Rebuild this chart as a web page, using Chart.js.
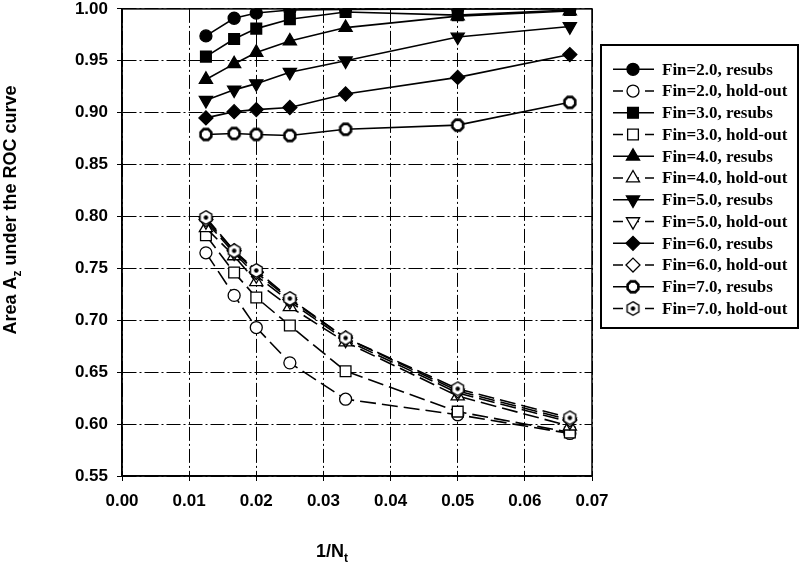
<!DOCTYPE html>
<html>
<head>
<meta charset="utf-8">
<script src="https://cdn.jsdelivr.net/npm/chart.js@4.4.1/dist/chart.umd.min.js"></script>
<style>
  html, body { margin: 0; padding: 0; background: #fff; }
  #wrap { width: 800px; height: 564px; position: relative; }
</style>
</head>
<body>
<div id="wrap"><canvas id="roc"></canvas></div>
<script>
// 1/Nt sample sizes (Nt = 80, 60, 50, 40, 30, 20, 15)
const invNt = [0.0125, 0.0167, 0.02, 0.025, 0.0333, 0.05, 0.0667];
const finValues = ['2.0', '3.0', '4.0', '5.0', '6.0', '7.0'];

// Az, resubstitution
const resubsFin2 = [0.974, 0.991, 0.996, 0.999, 0.9995, 1.0, 1.0];
const resubsFin3 = [0.954, 0.971, 0.981, 0.990, 0.997, 0.994, 0.999];
const resubsFin4 = [0.932, 0.947, 0.958, 0.969, 0.982, 0.993, 0.998];
const resubsFin5 = [0.912, 0.922, 0.928, 0.939, 0.950, 0.973, 0.983];
const resubsFin6 = [0.895, 0.901, 0.903, 0.905, 0.918, 0.934, 0.956];
const resubsFin7 = [0.879, 0.880, 0.879, 0.878, 0.884, 0.888, 0.910];

// Az, hold-out
const holdoutFin2 = [0.765, 0.724, 0.693, 0.659, 0.624, 0.609, 0.591];
const holdoutFin3 = [0.782, 0.746, 0.722, 0.695, 0.651, 0.612, 0.592];
const holdoutFin4 = [0.789, 0.762, 0.737, 0.713, 0.679, 0.627, 0.598];
const holdoutFin5 = [0.795, 0.765, 0.743, 0.718, 0.681, 0.630, 0.602];
const holdoutFin6 = [0.797, 0.767, 0.746, 0.720, 0.683, 0.632, 0.604];
const holdoutFin7 = [0.799, 0.767, 0.748, 0.721, 0.683, 0.634, 0.606];

const resubs = [resubsFin2, resubsFin3, resubsFin4, resubsFin5, resubsFin6, resubsFin7];
const holdout = [holdoutFin2, holdoutFin3, holdoutFin4, holdoutFin5, holdoutFin6, holdoutFin7];

const SANS = "'Liberation Sans', Arial, Helvetica, sans-serif";
const SERIF = "'Liberation Serif', 'Times New Roman', serif";

// ── custom marker bitmaps for Fin=7 ────────────────────────────────────────
function makeMarker(size, draw) {
  const c = document.createElement('canvas');
  c.width = size; c.height = size;
  draw(c.getContext('2d'), size / 2);
  return c;
}
function polygonPath(g, c, n, r, offset) {
  g.beginPath();
  for (let i = 0; i < n; i++) {
    const a = offset + i * 2 * Math.PI / n;
    const px = c + r * Math.cos(a), py = c + r * Math.sin(a);
    if (i) g.lineTo(px, py); else g.moveTo(px, py);
  }
  g.closePath();
}
const ringMarker = makeMarker(16, (g, c) => {
  polygonPath(g, c, 8, 5.8, Math.PI / 8);
  g.fillStyle = '#fff'; g.fill();
  g.lineWidth = 2.6; g.strokeStyle = '#000'; g.stroke();
});
const dotMarker = makeMarker(17, (g, c) => {
  polygonPath(g, c, 6, 6.8, -Math.PI / 2);
  g.fillStyle = '#fff'; g.fill();
  g.lineWidth = 1.4; g.strokeStyle = '#000'; g.stroke();
  g.beginPath(); g.arc(c, c, 2.2, 0, 2 * Math.PI);
  g.fillStyle = '#000'; g.fill();
});

const markers = [
  { pointStyle: 'circle', radius: 6, rotation: 0 },
  { pointStyle: 'rect', radius: 7.6, rotation: 0 },
  { pointStyle: 'triangle', radius: 7.6, rotation: 0 },
  { pointStyle: 'triangle', radius: 7.6, rotation: 180 },
  { pointStyle: 'rectRot', radius: 7, rotation: 0 },
];

function buildDataset(fin, idx, values, kind) {
  const held = kind === 'hold-out';
  let m = markers[idx];
  if (idx === 5) m = { pointStyle: held ? dotMarker : ringMarker, radius: 7, rotation: 0 };
  return {
    label: `Fin=${fin}, ${kind}`,
    data: invNt.map((x, i) => ({ x, y: values[i] })),
    borderColor: '#000',
    borderWidth: 1.6,
    borderDash: held ? [16, 6] : [],
    pointStyle: m.pointStyle,
    pointRadius: m.radius,
    pointRotation: m.rotation,
    pointBackgroundColor: held ? '#fff' : '#000',
    pointBorderColor: '#000',
    pointBorderWidth: 1.3,
    tension: 0,
    fill: false,
  };
}

const datasets = [];
finValues.forEach((fin, i) => {
  datasets.push(buildDataset(fin, i, resubs[i], 'resubs'));
  datasets.push(buildDataset(fin, i, holdout[i], 'hold-out'));
});
// later series are drawn on top, as in the original plot
datasets.forEach((ds, i) => { ds.order = -i; });

// ── plugins: frame, axis titles with subscripts, boxed legend ──────────────
const framePlugin = {
  id: 'frame',
  afterDraw(chart) {
    const { ctx, chartArea: a } = chart;
    ctx.save();
    ctx.strokeStyle = '#000';
    ctx.lineWidth = 1.5;
    ctx.strokeRect(a.left, a.top, a.right - a.left, a.bottom - a.top);
    ctx.restore();
  },
};

function drawSubText(ctx, parts, x, y) {
  // parts: [text, sub, text]; centered on x, baseline y
  const big = `bold 18px ${SANS}`, small = `bold 12px ${SANS}`;
  const widths = parts.map((p, i) => { ctx.font = i % 2 ? small : big; return ctx.measureText(p).width; });
  let cx = x - widths.reduce((s, w) => s + w, 0) / 2;
  ctx.textAlign = 'left';
  ctx.textBaseline = 'alphabetic';
  parts.forEach((p, i) => {
    ctx.font = i % 2 ? small : big;
    ctx.fillText(p, cx, i % 2 ? y + 5 : y);
    cx += widths[i];
  });
}

const titlesPlugin = {
  id: 'axisTitles',
  afterDraw(chart) {
    const { ctx } = chart;
    ctx.save();
    ctx.fillStyle = '#000';
    drawSubText(ctx, ['1/N', 't', ''], 332, 557);
    ctx.translate(16, 210);
    ctx.rotate(-Math.PI / 2);
    drawSubText(ctx, ['Area A', 'z', ' under the ROC curve'], 0, 0);
    ctx.restore();
  },
};

// legend keeps the dataset index order (Fin=2 first)
const legendPlugin = {
  id: 'boxLegend',
  afterDraw(chart) {
    const { ctx } = chart;
    const left = 601, top = 45, w = 197, h = 283;
    const firstRow = 69.3, rowGap = 21.75;
    ctx.save();
    ctx.fillStyle = '#fff';
    ctx.fillRect(left, top, w, h);
    ctx.strokeStyle = '#000';
    ctx.lineWidth = 2;
    ctx.strokeRect(left, top, w, h);
    chart.data.datasets.forEach((ds, i) => {
      const y = firstRow + i * rowGap;
      ctx.save();
      ctx.strokeStyle = '#000';
      ctx.lineWidth = 1.6;
      ctx.setLineDash(ds.borderDash.length ? [10, 6] : []);
      ctx.beginPath();
      ctx.moveTo(613, y);
      ctx.lineTo(654, y);
      ctx.stroke();
      ctx.setLineDash([]);
      ctx.fillStyle = ds.pointBackgroundColor;
      ctx.lineWidth = ds.pointBorderWidth;
      Chart.helpers.drawPoint(ctx, {
        pointStyle: ds.pointStyle, radius: ds.pointRadius,
        rotation: ds.pointRotation, borderWidth: ds.pointBorderWidth,
      }, 633, y);
      ctx.restore();
      ctx.fillStyle = '#000';
      ctx.font = `bold 17px ${SERIF}`;
      ctx.textAlign = 'left';
      ctx.textBaseline = 'middle';
      ctx.fillText(ds.label, 662, y + 1);
    });
    ctx.restore();
  },
};

const gridStyle = { color: '#000', lineWidth: 1, drawTicks: true, tickLength: 5, tickColor: '#000' };
const borderStyle = { display: true, color: '#000', width: 1.5, dash: [14, 3, 2, 3] };
const tickFont = { family: SANS, weight: 'bold', size: 17 };

new Chart(document.getElementById('roc'), {
  type: 'line',
  data: { datasets },
  plugins: [framePlugin, titlesPlugin, legendPlugin],
  options: {
    animation: false,
    responsive: true,
    maintainAspectRatio: false,
    layout: { padding: { top: 7, right: 208, left: 0, bottom: 0 } },
    scales: {
      x: {
        type: 'linear',
        min: 0,
        max: 0.07,
        grid: gridStyle,
        border: borderStyle,
        ticks: {
          stepSize: 0.01,
          color: '#000',
          font: tickFont,
          padding: 10,
          maxRotation: 0,
          callback: v => v.toFixed(2),
        },
        afterFit: s => { s.height = 88; },
      },
      y: {
        min: 0.55,
        max: 1.0,
        grid: gridStyle,
        border: borderStyle,
        ticks: {
          stepSize: 0.05,
          color: '#000',
          font: tickFont,
          padding: 9,
          callback: v => v.toFixed(2),
        },
        afterFit: s => { s.width = 122; s.paddingTop = 0; s.paddingBottom = 0; },
      },
    },
    plugins: {
      legend: { display: false },
      tooltip: { enabled: false },
    },
  },
});
</script>
</body>
</html>
